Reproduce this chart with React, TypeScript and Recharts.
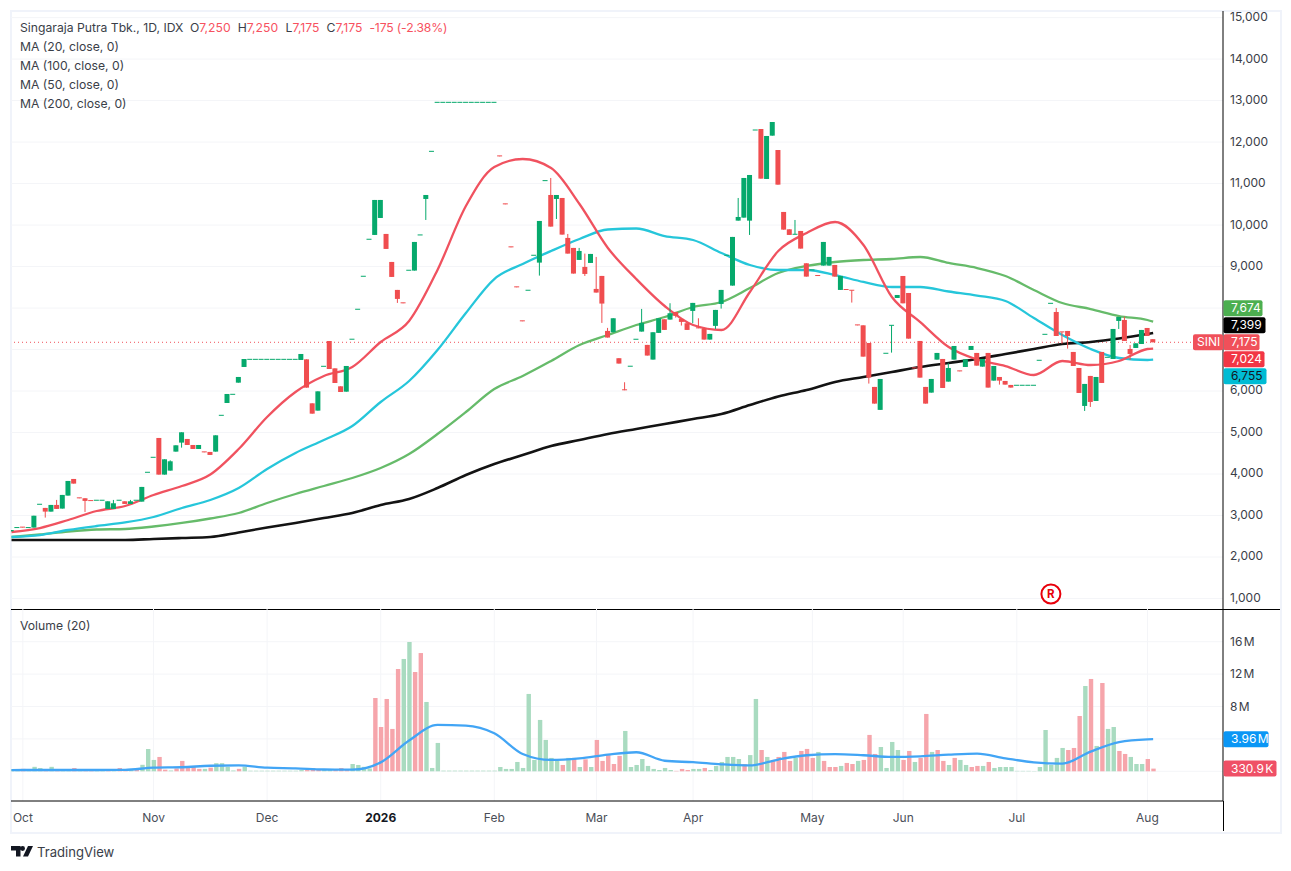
import React from 'react';
import { ComposedChart, Bar, Line, XAxis, YAxis, CartesianGrid, ReferenceLine, ReferenceDot, Cell } from 'recharts';

const GREEN = '#06a96c';
const RED = '#f04d4f';
const GRID = '#f4f5f8';
const FONT = 'Inter, sans-serif';
const TEXT = '#3a3e48';

const same = (v: number, n: number) => Array(n).fill(v);

const opens = [
  2620, 2710, 2720, 2710, 2709, 3271, 3183, 3094, 3255, 3167, 3480, 3881, 3426, 3416, 3360, 3368, 3368, 3159, 3159, 3368,
  3343, 3279, 3368, 3335, 4042, 4403, 4869, 3986, 4082, 4540, 4757, 4845, 4700, 4604, 4534, 4532, 4540, 5415, 5712, 5921,
  6202, 6580, ...same(6764, 9), 6748, 6764, 5704, 5528, 6596, 7206, 6547, 6114, 5985,
  7249, 7971, 8766, 9658, 9762, 10171, 9786, 9111, 8437, 8126, 8911, 8903, 9762, 10629, 11777, ...same(12958, 11),
  11667, 10511, 9475, 8511, 7692, 8429, 9272, 9095, 11071, 10725, 10629, 10653, 9690, 9449, 9160, 8991, 9087, 8461, 8774, 7449,
  7417, 6791, 6030, 6598, 7248, 7433, 7112, 6758, 7401, 7730, 7722, 7907, 7738, 7634, 7931, 7523, 7513, 7240, 7570, 8099,
  9272, 8541, 10107, 10179, 10107, 12291, 12315, 11111, 12155, 11809, 10316, 9898, 9778, 9858, 9079, 8919, 8784, 9023, 9023, 9039,
  8437, 8447, 8429, 7594, 7584, 7158, 6099, 5546, 6910, 7584, 8243, 8773, 8363, 6558, 7207, 6099, 5962, 6757, 6773, 6227,
  6757, 6486, 6580, 6990, 6918, 6588, 6918, 6251, 6339, 6243, 6147, ...same(6139, 4), 6741, 7367, 8114, 7905, 7426, 7448, 6942,
  6556, 5641, 6364, 5761, 6942, 6813, 6773, 7689, 7713, 7014, 7038, 7134, 7520, 7250,
];
const closes = [
  2650, 2710, 2710, 2710, 2995, 3271, 3094, 3255, 3159, 3496, 3833, 3769, 3416, 3352, 3352, 3368, 3368, 3343, 3295, 3368,
  3279, 3343, 3368, 3689, 4042, 4403, 3986, 4355, 4307, 4692, 5006, 4700, 4604, 4700, 4524, 4460, 4933, 5415, 5929, 5921,
  6339, 6772, ...same(6764, 9), 6893, 6082, 5455, 5993, 6596, 6531, 6194, 5977, 6604,
  7249, 7971, 8766, 9658, 10605, 10605, 9425, 8750, 8220, 8116, 8911, 9593, 9762, 10725, 11777, ...same(12958, 11),
  11657, 10501, 9465, 8501, 7682, 8429, 9272, 10099, 11071, 9963, 10725, 9770, 9312, 8831, 9376, 8822, 9304, 8373, 8108, 7289,
  7754, 6662, 6020, 6598, 7248, 7642, 6855, 7417, 7754, 7473, 7875, 7810, 7666, 7473, 8124, 7513, 7240, 7377, 7955, 8437,
  9272, 9714, 10195, 11135, 11207, 12291, 11119, 12147, 12484, 10974, 9890, 9762, 9778, 9433, 8758, 8919, 8774, 9593, 9232, 8758,
  8774, 8437, 8419, 7584, 6829, 6323, 5697, 6291, 6910, 7584, 8315, 8114, 7263, 6548, 6323, 5697, 6291, 6918, 6074, 6556,
  7086, 6476, 6765, 7086, 6612, 6773, 6083, 6604, 6251, 6155, 6083, ...same(6139, 4), 6741, 7367, 8114, 7327, 7416, 7327, 6604,
  5954, 6171, 5737, 6339, 6195, 6813, 7496, 7785, 7207, 6894, 7150, 7472, 7327, 7175,
];
// only the candles that have a wick
const wickHighs: Record<number, number> = {
  8: 3376, 18: 3376, 21: 3376, 28: 4331, 95: 11135, 98: 9786, 100: 9449, 101: 9312, 103: 9232, 105: 7522, 108: 6212,
  111: 7979, 116: 8116, 121: 7754, 128: 10653, 138: 10123, 165: 6669, 184: 8002, 196: 7793, 197: 7110,
};
const wickLows: Record<number, number> = {
  6: 2950, 13: 3086, 30: 4636, 68: 8124, 73: 10123, 93: 8782, 96: 10147, 101: 8774, 104: 7642, 117: 7770, 118: 7578,
  120: 7634, 124: 7497, 125: 7987, 130: 9762, 148: 8132, 151: 6180, 155: 6926, 174: 6155, 185: 7142, 186: 7022,
  189: 5520, 190: 5617, 195: 7496, 197: 6749,
};

// moving averages, read every 5th bar plus the last one
const ma20 = [
  2603, 2699, 2892, 3109, 3229, 3494, 3711, 3988, 4603, 5374, 5977, 6362, 6580, 7182, 7688, 8918, 10460, 11400, 11592, 11375,
  10507, 9447, 8700, 8049, 7591, 7471, 8387, 9374, 9808, 10074, 9519, 8266, 7663, 7061, 6760, 6603, 6386, 6724, 6627, 6724, 7013, 7024,
];
const ma50 = [
  2482, 2530, 2651, 2747, 2832, 2964, 3181, 3374, 3663, 4121, 4507, 4820, 5157, 5736, 6242, 6989, 7881, 8700, 9062, 9375,
  9664, 9893, 9917, 9736, 9640, 9327, 9037, 8917, 8917, 8796, 8628, 8507, 8507, 8399, 8302, 8170, 7760, 7350, 7013, 6796, 6748, 6755,
];
const ma100 = [
  2482, 2542, 2615, 2663, 2675, 2735, 2820, 2928, 3061, 3302, 3518, 3711, 3904, 4145, 4482, 4964, 5495, 6049, 6362, 6724,
  7109, 7350, 7591, 7784, 8025, 8146, 8483, 8845, 9014, 9110, 9158, 9182, 9230, 9086, 8965, 8772, 8435, 8121, 7977, 7808, 7712, 7674,
];
const ma200 = [
  2410, 2410, 2410, 2410, 2410, 2434, 2458, 2482, 2591, 2711, 2820, 2940, 3061, 3253, 3398, 3663, 3976, 4241, 4458, 4675,
  4820, 4964, 5085, 5205, 5326, 5446, 5663, 5868, 6025, 6218, 6338, 6459, 6579, 6676, 6772, 6892, 7013, 7133, 7182, 7266, 7375, 7399,
];

// volume in millions, with the colour of each bar (g / r)
const volumes = [
  0.25, 0.2, 0.3, 0.2, 0.55, 0.4, 0.25, 0.55, 0.2, 0.2, 0.25, 0.4, 0.15, 0.15, 0.15, 0.15, 0.15, 0.15, 0.15, 0.4,
  0.15, 0.15, 0.15, 0.8, 2.75, 1.4, 1.77, 0.2, 0.1, 0.35, 1.28, 0.4, 0.55, 0.3, 0.3, 0.45, 1.0, 1.0, 0.55, 0.1,
  0.3, 0.55, 0.07, 0.07, 0.07, 0.07, 0.07, 0.07, 0.07, 0.07, 0.07, 0.15, 0.15, 0.4, 0.2, 0.15, 0.15, 0.15, 0.4, 0.15,
  0.9, 0.78, 0.55, 0.35, 9.05, 5.47, 8.93, 5.23, 12.63, 13.87, 15.97, 12.26, 14.6, 8.56, 0.41, 3.5, 0.08, 0.08, 0.08, 0.08,
  0.08, 0.08, 0.08, 0.08, 0.08, 0.08, 0.53, 0.29, 0.29, 1.15, 0.41, 9.55, 1.4, 6.34, 3.87, 1.65, 1.3, 0.78, 1.65, 1.65,
  0.53, 1.48, 0.53, 3.87, 1.28, 2.0, 0.9, 1.9, 4.98, 0.53, 0.78, 1.52, 0.66, 0.29, 0.16, 0.41, 0.16, 0.05, 0.29, 0.16,
  0.29, 0.29, 0.41, 0.16, 0.66, 1.15, 1.77, 1.77, 1.52, 0.9, 2.0, 8.93, 2.63, 1.77, 1.4, 1.77, 2.39, 1.28, 1.65, 2.51,
  2.76, 1.65, 2.39, 1.28, 0.53, 0.53, 0.66, 1.03, 0.9, 1.28, 1.4, 4.49, 2.14, 3.0, 0.41, 3.62, 2.63, 1.4, 2.51, 1.15,
  1.65, 7.08, 2.39, 2.63, 1.28, 0.78, 1.65, 1.4, 0.78, 0.53, 0.66, 0.66, 1.15, 0.41, 0.53, 0.53, 0.53, 0.05, 0.05, 0.05,
  0.05, 0.53, 5.1, 0.78, 1.65, 2.88, 2.63, 2.88, 6.83, 10.53, 11.4, 3.13, 10.9, 5.23, 5.47, 2.51, 2.14, 1.77, 0.9, 0.9,
  1.52, 0.33,
];
const volumeSides = [
  'ggrgggrgrggrgrrggrgr',
  'rgrgggrrgrrrrrgrgggg',
  'rgggggggggggrrrggrrr',
  'ggggrrrrrggrrggggggg',
  'gggggggggggggggggrgr',
  'grgrrrrrgggggggggrrr',
  'ggrggggggrggrgrrrrgr',
  'rrgrrrgrrgrrrggggrrg',
  'rrgrrgrggrrgrggggggg',
  'ggggggrrrgrgrggrrggg',
  'rr',
].join('');

const volumeMa = [
  0.15, 0.16, 0.16, 0.16, 0.17, 0.45, 0.5, 0.68, 0.72, 0.45, 0.37, 0.22, 0.2, 1.1, 3.8, 5.72, 5.65, 4.7, 2.14, 1.4,
  1.6, 2.05, 2.35, 1.3, 1.12, 0.86, 0.72, 1.45, 1.98, 2.12, 1.98, 1.77, 1.85, 2.05, 2.18, 1.6, 1.1, 0.95, 2.43, 3.6, 3.94, 3.96,
];

const priceTicks = [1000, 2000, 3000, 4000, 5000, 6000, 7000, 8000, 9000, 10000, 11000, 12000, 13000, 14000, 15000];
const volumeTicks = [0, 4, 8, 12, 16];
const monthTicks = [2, 25, 45, 65, 85, 103, 120, 141, 157, 177, 200];
const monthLabels = ['Oct', 'Nov', 'Dec', '2026', 'Feb', 'Mar', 'Apr', 'May', 'Jun', 'Jul', 'Aug'];
const maLegend = ['MA (20, close, 0)', 'MA (100, close, 0)', 'MA (50, close, 0)', 'MA (200, close, 0)'];

const lastClose = 7175;
const priceTags = [
  { text: '7,674', color: '#4caf50', w: 39, ink: '#fff' },
  { text: '7,399', color: '#000000', w: 42, ink: '#fff' },
  { text: '7,175', color: '#f0505a', w: 36, ink: '#fff' },
  { text: '7,024', color: '#f23645', w: 41, ink: '#fff' },
  { text: '6,755', color: '#00bcd4', w: 43, ink: '#131722' },
];

const lastBar = opens.length - 1;
const X_DOMAIN: [number, number] = [-0.09, 213.3];

const maAt = (arr: number[], i: number) => {
  if (i === lastBar) return arr[arr.length - 1];
  return i % 5 === 0 ? arr[i / 5] : null;
};

const rows = opens.map((open, index) => {
  const close = closes[index];
  return {
    index,
    open,
    close,
    high: wickHighs[index] ?? Math.max(open, close),
    low: wickLows[index] ?? Math.min(open, close),
    ma20: maAt(ma20, index),
    ma50: maAt(ma50, index),
    ma100: maAt(ma100, index),
    ma200: maAt(ma200, index),
    volume: volumes[index],
    volumeMa: maAt(volumeMa, index),
  };
});

const Candle = (props: any) => {
  const { x, y, width, height, payload } = props;
  const { open, close, high, low } = payload;
  const span = high - low;
  const toY = (v: number) => (span === 0 ? y : y + ((high - v) / span) * height);
  const color = close >= open ? GREEN : RED;
  const top = toY(Math.max(open, close));
  const bottom = toY(Math.min(open, close));
  const mid = x + width / 2;
  return (
    <g>
      {span > 0 && <rect x={mid - 0.5} y={y} width={1} height={height} fill={color} />}
      <rect x={x} y={top - (bottom - top < 1 ? 0.5 : 0)} width={width} height={Math.max(bottom - top, 1)} fill={color} />
    </g>
  );
};

const PriceTag = (props: any) => {
  const { cx, cy, slot } = props;
  const tag = priceTags[slot];
  const yy = cy + (slot - 2) * 17;
  return (
    <g>
      <rect x={cx + 0.5} y={yy - 8} width={tag.w} height={16} rx={2} fill={tag.color} />
      <text x={cx + 8} y={yy + 4.2} fontSize={12} fontFamily={FONT} fill={tag.ink}>{tag.text}</text>
    </g>
  );
};

const SymbolTag = (props: any) => {
  const { cx, cy } = props;
  return (
    <g>
      <rect x={cx - 30} y={cy - 8} width={30} height={16} rx={2} fill="#f0505a" />
      <text x={cx - 26} y={cy + 4.2} fontSize={12} fontFamily={FONT} fill="#fff">SINI</text>
    </g>
  );
};

const RBadge = (props: any) => {
  const { cx, cy } = props;
  return (
    <g>
      <circle cx={cx} cy={cy} r={9.5} fill="#fff" stroke="#e8000b" strokeWidth={2} />
      <text x={cx} y={cy + 4} fontSize={11.5} fontWeight={700} textAnchor="middle" fontFamily={FONT} fill="#e8000b">R</text>
    </g>
  );
};

const VolumeTag = (props: any) => {
  const { cx, cy, text, color, w } = props;
  return (
    <g>
      <rect x={cx + 0.5} y={cy - 8} width={w} height={16} rx={2} fill={color} />
      <text x={cx + 8} y={cy + 4.2} fontSize={12} wordSpacing={-2} fontFamily={FONT} fill="#fff">{text}</text>
    </g>
  );
};

const MonthTick = (props: any) => {
  const { x, y, payload } = props;
  const label = monthLabels[monthTicks.indexOf(payload.value)];
  return (
    <text x={x} y={y + 13} fontSize={12} textAnchor="middle" fontFamily={FONT}
      fontWeight={label === '2026' ? 700 : 400} fill={label === '2026' ? '#131722' : '#4a4e58'}>
      {label}
    </text>
  );
};

const overlay: React.CSSProperties = { position: 'absolute', fontFamily: FONT, fontSize: 12.2, color: TEXT, whiteSpace: 'nowrap', lineHeight: '16px' };
const redText: React.CSSProperties = { color: '#f7525f' };

export default function App() {
  return (
    <div style={{ position: 'absolute', left: 0, top: 0, width: 1291, height: 871, background: '#fff', overflow: 'hidden' }}>
      <div style={{ position: 'absolute', left: 10, top: 10, width: 1268, height: 820, border: '2px solid #f0f3fa' }} />

      {/* svg starts 10px above the plot so the 15,000 label is not clipped */}
      <div style={{ position: 'absolute', left: 11, top: 1 }}>
        <ComposedChart width={1269} height={608} data={rows} margin={{ top: 10, right: 0, bottom: 0, left: 0 }}>
          <CartesianGrid stroke={GRID} verticalValues={monthTicks} horizontalValues={priceTicks} />
          <XAxis type="number" dataKey="index" domain={X_DOMAIN} allowDataOverflow ticks={monthTicks} interval={0}
            tick={false} tickLine={false} axisLine={false} height={0} />
          {/* 7,000 and 8,000 sit under the price tags */}
          <YAxis orientation="right" width={57} domain={[747, 15159]} allowDataOverflow ticks={priceTicks} interval={0}
            tickLine={false} axisLine={{ stroke: '#000' }} tickMargin={1}
            tickFormatter={(v: number) => (v === 7000 || v === 8000 ? '' : v.toLocaleString('en-US'))}
            tick={{ fontSize: 12, fontFamily: FONT, fill: '#3a3e48', textAnchor: 'start', dy: -0.8 }} />
          <ReferenceLine y={lastClose} stroke="#f0505a" strokeDasharray="1 3" segment={[{ x: -0.09, y: lastClose }, { x: 208, y: lastClose }]} />
          <Line dataKey="ma200" stroke="#131313" strokeWidth={2.6} dot={false} connectNulls type="monotone" isAnimationActive={false} />
          <Line dataKey="ma100" stroke="#66bb6a" strokeWidth={2.3} dot={false} connectNulls type="monotone" isAnimationActive={false} />
          <Line dataKey="ma50" stroke="#26c6da" strokeWidth={2.3} dot={false} connectNulls type="monotone" isAnimationActive={false} />
          <Line dataKey="ma20" stroke="#f0525f" strokeWidth={2.3} dot={false} connectNulls type="monotone" isAnimationActive={false} />
          <Bar dataKey={(d: any) => [d.low, d.high]} barSize={5} shape={Candle} isAnimationActive={false} zIndex={500} />
          <ReferenceDot x={183} y={1108} ifOverflow="visible" shape={RBadge} />
          <ReferenceDot x={X_DOMAIN[1]} y={lastClose} ifOverflow="visible" shape={SymbolTag} />
          {priceTags.map((tag, slot) => (
            <ReferenceDot key={tag.text} x={X_DOMAIN[1]} y={lastClose} ifOverflow="visible" zIndex={2000}
              shape={(p: any) => <PriceTag {...p} slot={slot} />} />
          ))}
        </ComposedChart>
      </div>

      <div style={{ position: 'absolute', left: 11, top: 609, width: 1269, height: 1, background: '#000' }} />

      <div style={{ position: 'absolute', left: 11, top: 609 }}>
        <ComposedChart width={1269} height={222} data={rows} margin={{ top: 0, right: 0, bottom: 0, left: 0 }}>
          <CartesianGrid stroke={GRID} verticalValues={monthTicks} horizontalValues={volumeTicks} />
          <XAxis type="number" dataKey="index" domain={X_DOMAIN} allowDataOverflow ticks={monthTicks} interval={0}
            tick={MonthTick} tickLine={false} axisLine={{ stroke: '#000' }} height={30} />
          <YAxis orientation="right" width={57} domain={[-3.67, 20.04]} allowDataOverflow ticks={volumeTicks} interval={0}
            tickLine={false} axisLine={{ stroke: '#000' }} tickMargin={1}
            tickFormatter={(v: number) => (v === 0 || v === 4 ? '' : `${v} M`)}
            tick={{ fontSize: 12, fontFamily: FONT, fill: '#3a3e48', textAnchor: 'start', wordSpacing: -2 }} />
          <Bar dataKey="volume" barSize={4.4} isAnimationActive={false}>
            {rows.map((r, i) => (
              <Cell key={`vol-${r.index}`} fill={volumeSides[i] === 'r' ? '#f6a5ab' : '#a9dbc0'} />
            ))}
          </Bar>
          <Line dataKey="volumeMa" stroke="#42a5f5" strokeWidth={2.3} dot={false} connectNulls type="monotone" isAnimationActive={false} />
          <ReferenceDot x={X_DOMAIN[1]} y={3.96} ifOverflow="visible" zIndex={2000}
            shape={(p: any) => <VolumeTag {...p} text="3.96 M" color="#0a96f5" w={45} />} />
          <ReferenceDot x={X_DOMAIN[1]} y={0.33} ifOverflow="visible" zIndex={2000}
            shape={(p: any) => <VolumeTag {...p} text="330.9 K" color="#ef5066" w={53} />} />
        </ComposedChart>
      </div>

      <div style={{ position: 'absolute', left: 1223, top: 801, width: 1, height: 30, background: '#000' }} />

      <div style={{ ...overlay, left: 20, top: 20 }}>
        <span>Singaraja Putra Tbk., 1D, IDX</span>
        <span style={{ marginLeft: 6.5 }}>O</span><span style={redText}>7,250</span>
        <span style={{ marginLeft: 7 }}>H</span><span style={redText}>7,250</span>
        <span style={{ marginLeft: 7.5 }}>L</span><span style={redText}>7,175</span>
        <span style={{ marginLeft: 7 }}>C</span><span style={redText}>7,175</span>
        <span style={{ ...redText, marginLeft: 7, letterSpacing: -0.15 }}>-175 (-2.38%)</span>
      </div>
      {maLegend.map((label, i) => (
        <div key={label} style={{ ...overlay, left: 20, top: 39 + i * 19 }}>{label}</div>
      ))}
      <div style={{ ...overlay, left: 20, top: 618 }}>Volume (20)</div>

      <svg style={{ position: 'absolute', left: 11, top: 846 }} width={23} height={11} viewBox="0 0 23 11">
        <path d="M0 0H9.5V10.5H5V4.5H0Z M14 2.5a2.4 2.4 0 1 1 -4.8 0a2.4 2.4 0 1 1 4.8 0Z M17 0H22L17 10.5H12Z" fill="#131722" />
      </svg>
      <div style={{ ...overlay, left: 37, top: 844, fontSize: 13.1 }}>TradingView</div>
    </div>
  );
}
